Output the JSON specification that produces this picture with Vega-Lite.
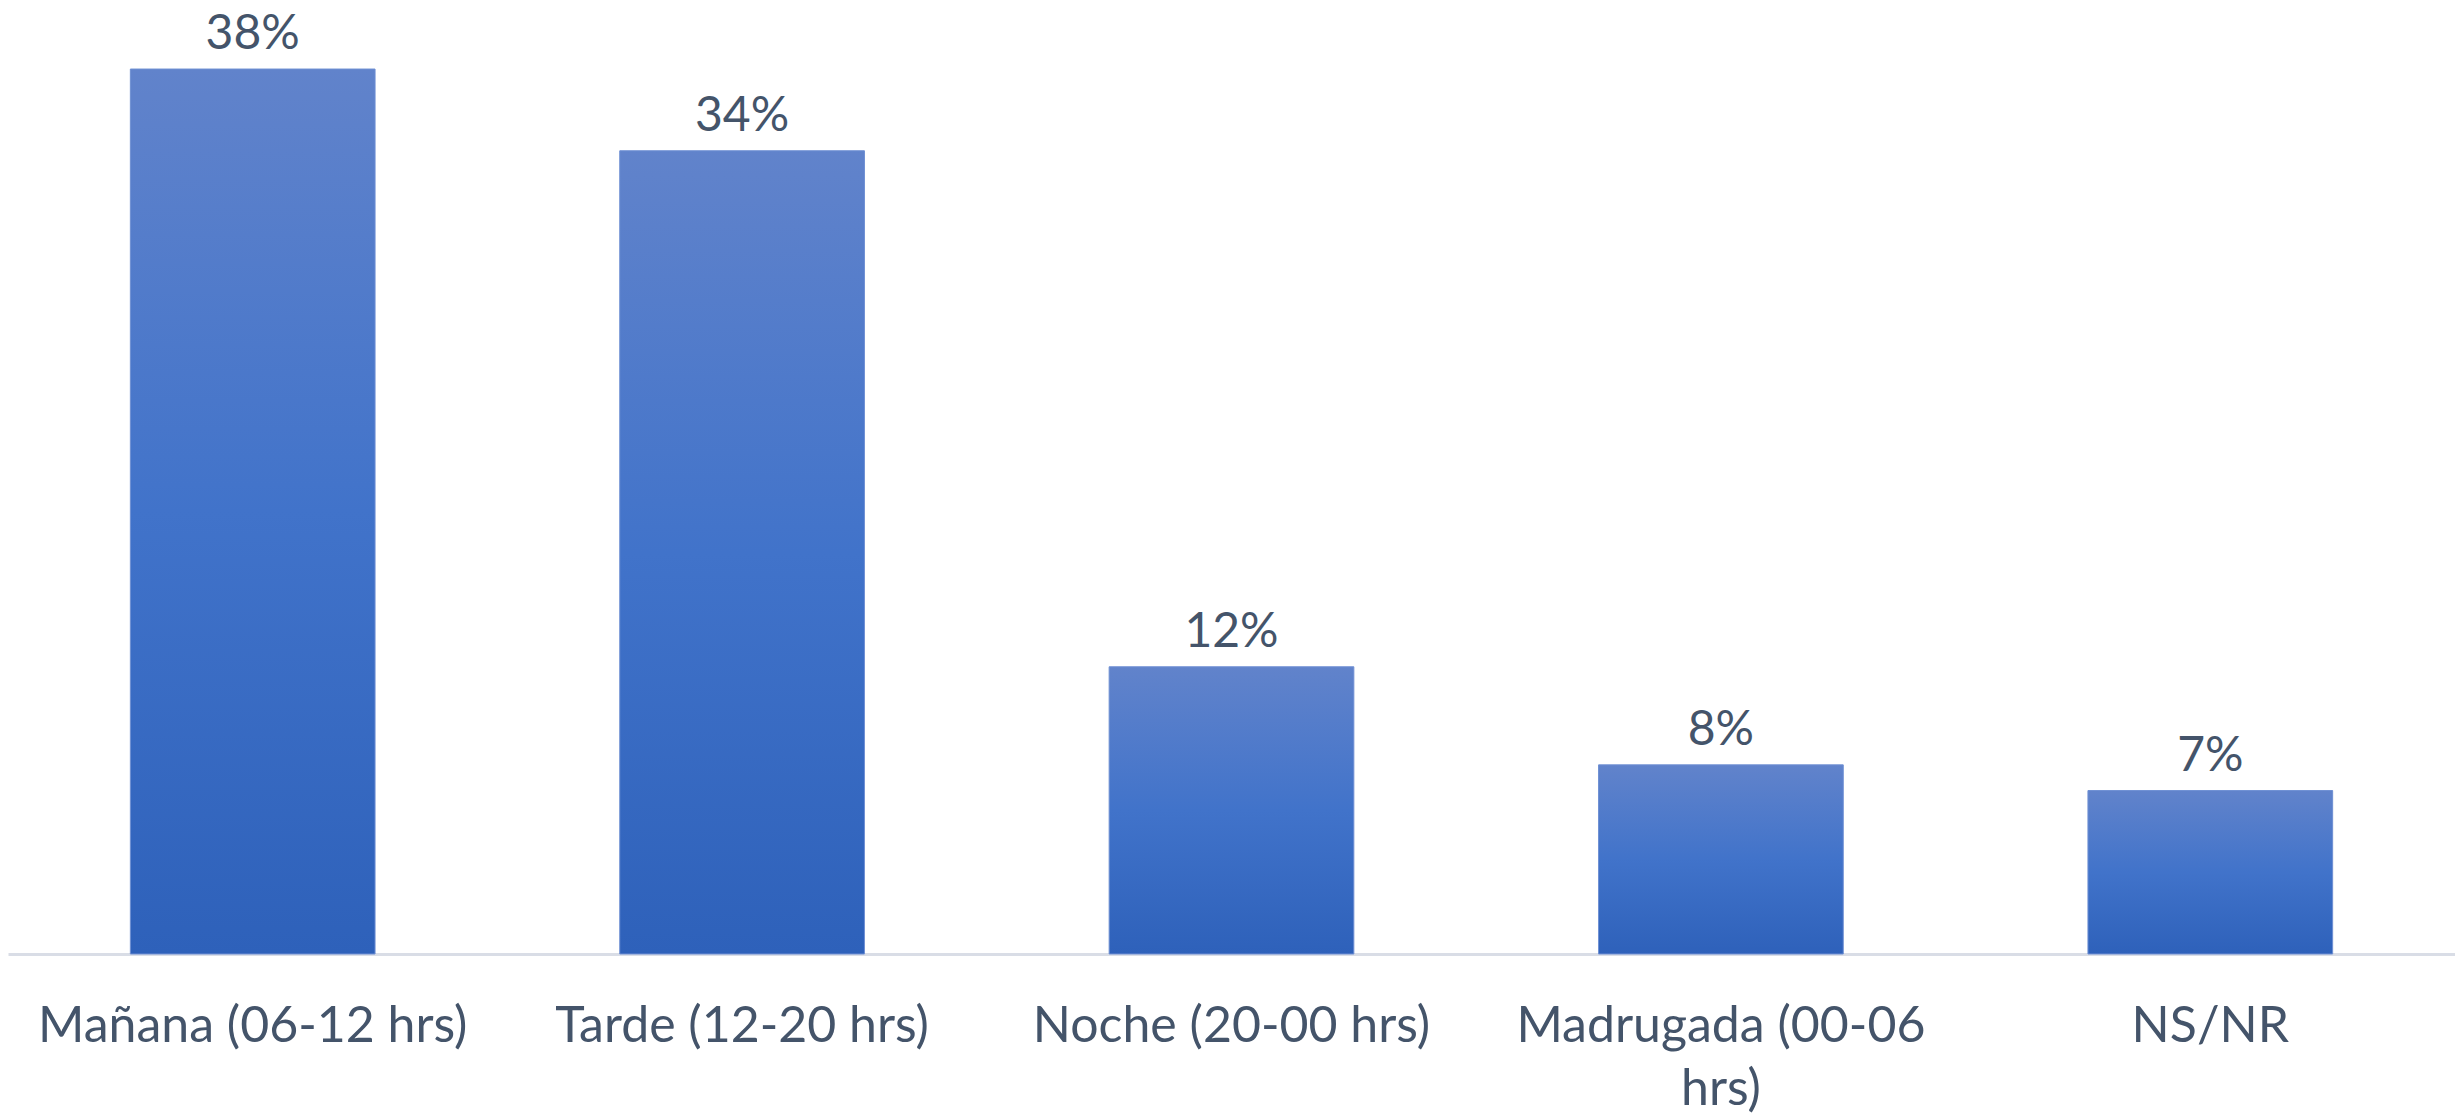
{
  "$schema": "https://vega.github.io/schema/vega-lite/v6.json",
  "width": 2447,
  "height": 934,
  "autosize": "none",
  "padding": {"left": 8, "top": 20, "right": 0, "bottom": 160},
  "background": "white",
  "config": {"view": {"stroke": null}, "font": "Lato"},
  "data": {
    "values": [
      {"franja": "Mañana (06-12 hrs)", "valor": 0.379},
      {"franja": "Tarde (12-20 hrs)", "valor": 0.344},
      {"franja": "Noche (20-00 hrs)", "valor": 0.123},
      {"franja": "Madrugada (00-06 hrs)", "valor": 0.081},
      {"franja": "NS/NR", "valor": 0.070}
    ]
  },
  "encoding": {
    "x": {
      "field": "franja",
      "type": "nominal",
      "sort": null,
      "scale": {"paddingInner": 0.5, "paddingOuter": 0.25},
      "axis": {
        "title": null,
        "labelAngle": 0,
        "labelFont": "Lato",
        "labelFontSize": 50,
        "labelColor": "#44546A",
        "labelPadding": 47,
        "labelLineHeight": 63,
        "labelBaseline": "top",
        "labelLimit": 1000,
        "ticks": false,
        "domainColor": "#D9DDE6",
        "domainWidth": 3,
        "labelExpr": "datum.label == 'Madrugada (00-06 hrs)' ? ['Madrugada (00-06', 'hrs)'] : datum.label"
      }
    },
    "y": {
      "field": "valor",
      "type": "quantitative",
      "scale": {"domain": [0, 0.4], "nice": false},
      "axis": null
    }
  },
  "layer": [
    {
      "mark": {
        "type": "bar",
        "color": {
          "gradient": "linear",
          "x1": 0, "y1": 0, "x2": 0, "y2": 1,
          "stops": [
            {"offset": 0, "color": "#6183CB"},
            {"offset": 0.5, "color": "#4173CA"},
            {"offset": 1, "color": "#2E61BA"}
          ]
        },
        "stroke": "#6E8FD3",
        "strokeWidth": 1
      }
    },
    {
      "mark": {
        "type": "text",
        "font": "Lato",
        "fontSize": 48,
        "color": "#44546A",
        "baseline": "alphabetic",
        "dy": -20
      },
      "encoding": {
        "text": {"field": "valor", "type": "quantitative", "format": ".0%"}
      }
    }
  ]
}
